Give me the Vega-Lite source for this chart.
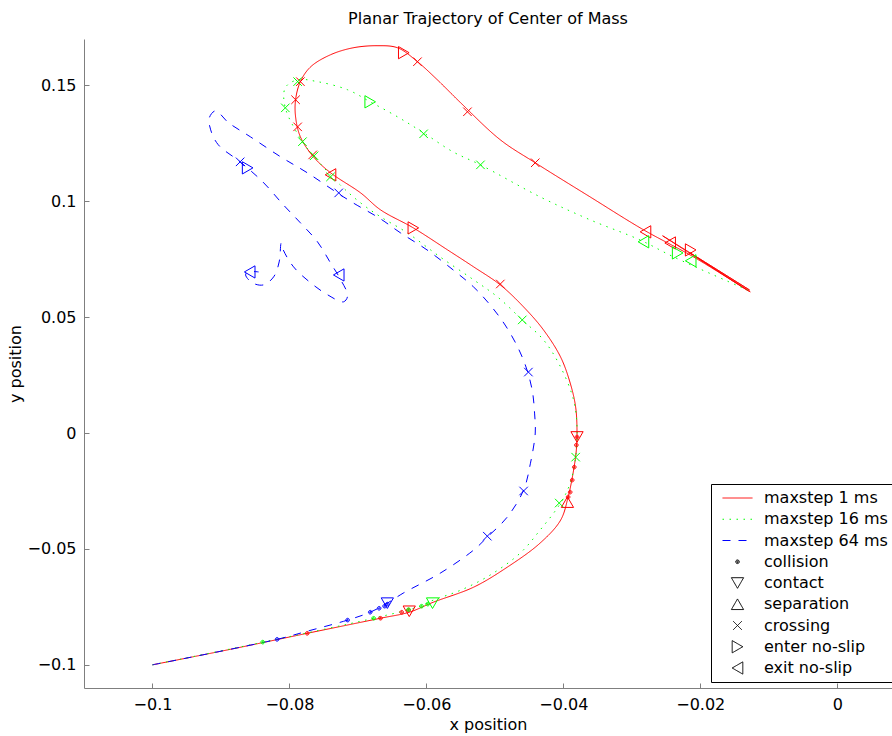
{
  "$schema": "https://vega.github.io/schema/vega-lite/v6.json",
  "autosize": {"type": "none"},
  "width": 808,
  "height": 649,
  "padding": {"left": 84, "top": 39, "right": 0, "bottom": 48},
  "background": "white",
  "title": {"text": "Planar Trajectory of Center of Mass", "font": "DejaVu Sans", "fontSize": 16, "fontWeight": "normal", "color": "#000", "offset": 12},
  "config": {
    "view": {"stroke": null},
    "axis": {"domainColor": "#7f7f7f", "tickColor": "#7f7f7f", "labelColor": "#000", "titleColor": "#000", "labelFont": "DejaVu Sans", "titleFont": "DejaVu Sans", "labelFontSize": 16, "titleFontSize": 16, "titleFontWeight": "normal", "grid": false, "tickSize": -5, "domainWidth": 1, "tickWidth": 1}
  },
  "datasets": {
    "lines": [
      {"s": "maxstep 1 ms", "i": 0, "x": -0.1, "y": -0.1},
      {"s": "maxstep 1 ms", "i": 1, "x": -0.0886, "y": -0.0933},
      {"s": "maxstep 1 ms", "i": 2, "x": -0.0774, "y": -0.0864},
      {"s": "maxstep 1 ms", "i": 3, "x": -0.0667, "y": -0.0799},
      {"s": "maxstep 1 ms", "i": 4, "x": -0.0625, "y": -0.0773},
      {"s": "maxstep 1 ms", "i": 5, "x": -0.059, "y": -0.073},
      {"s": "maxstep 1 ms", "i": 6, "x": -0.0531, "y": -0.0665},
      {"s": "maxstep 1 ms", "i": 7, "x": -0.0482, "y": -0.0579},
      {"s": "maxstep 1 ms", "i": 8, "x": -0.0434, "y": -0.0475},
      {"s": "maxstep 1 ms", "i": 9, "x": -0.0404, "y": -0.0376},
      {"s": "maxstep 1 ms", "i": 10, "x": -0.0393, "y": -0.0276},
      {"s": "maxstep 1 ms", "i": 11, "x": -0.0385, "y": -0.016},
      {"s": "maxstep 1 ms", "i": 12, "x": -0.0381, "y": -0.0073},
      {"s": "maxstep 1 ms", "i": 13, "x": -0.038, "y": 0.0},
      {"s": "maxstep 1 ms", "i": 14, "x": -0.0382, "y": 0.0112},
      {"s": "maxstep 1 ms", "i": 15, "x": -0.039, "y": 0.0216},
      {"s": "maxstep 1 ms", "i": 16, "x": -0.0404, "y": 0.0328},
      {"s": "maxstep 1 ms", "i": 17, "x": -0.0429, "y": 0.0445},
      {"s": "maxstep 1 ms", "i": 18, "x": -0.0458, "y": 0.0544},
      {"s": "maxstep 1 ms", "i": 19, "x": -0.0492, "y": 0.0639},
      {"s": "maxstep 1 ms", "i": 20, "x": -0.0531, "y": 0.0717},
      {"s": "maxstep 1 ms", "i": 21, "x": -0.0569, "y": 0.079},
      {"s": "maxstep 1 ms", "i": 22, "x": -0.0619, "y": 0.0885},
      {"s": "maxstep 1 ms", "i": 23, "x": -0.0667, "y": 0.0963},
      {"s": "maxstep 1 ms", "i": 24, "x": -0.0696, "y": 0.1036},
      {"s": "maxstep 1 ms", "i": 25, "x": -0.074, "y": 0.1123},
      {"s": "maxstep 1 ms", "i": 26, "x": -0.0765, "y": 0.1192},
      {"s": "maxstep 1 ms", "i": 27, "x": -0.0784, "y": 0.1278},
      {"s": "maxstep 1 ms", "i": 28, "x": -0.0791, "y": 0.1364},
      {"s": "maxstep 1 ms", "i": 29, "x": -0.0791, "y": 0.1438},
      {"s": "maxstep 1 ms", "i": 30, "x": -0.0784, "y": 0.1516},
      {"s": "maxstep 1 ms", "i": 31, "x": -0.0769, "y": 0.158},
      {"s": "maxstep 1 ms", "i": 32, "x": -0.074, "y": 0.1632},
      {"s": "maxstep 1 ms", "i": 33, "x": -0.0707, "y": 0.1662},
      {"s": "maxstep 1 ms", "i": 34, "x": -0.0672, "y": 0.1671},
      {"s": "maxstep 1 ms", "i": 35, "x": -0.0642, "y": 0.1662},
      {"s": "maxstep 1 ms", "i": 36, "x": -0.0613, "y": 0.1602},
      {"s": "maxstep 1 ms", "i": 37, "x": -0.0584, "y": 0.1524},
      {"s": "maxstep 1 ms", "i": 38, "x": -0.055, "y": 0.1425},
      {"s": "maxstep 1 ms", "i": 39, "x": -0.0492, "y": 0.1265},
      {"s": "maxstep 1 ms", "i": 40, "x": -0.0441, "y": 0.1166},
      {"s": "maxstep 1 ms", "i": 41, "x": -0.0361, "y": 0.1019},
      {"s": "maxstep 1 ms", "i": 42, "x": -0.0283, "y": 0.0877},
      {"s": "maxstep 1 ms", "i": 43, "x": -0.021, "y": 0.076},
      {"s": "maxstep 1 ms", "i": 44, "x": -0.0127, "y": 0.0609},
      {"s": "maxstep 1 ms", "i": 45, "x": -0.0255, "y": 0.0851},
      {"s": "maxstep 1 ms", "i": 46, "x": -0.0128, "y": 0.0617},
      {"s": "maxstep 1 ms", "i": 47, "x": -0.0215, "y": 0.0777},
      {"s": "maxstep 1 ms", "i": 48, "x": -0.013, "y": 0.0613},

      {"s": "maxstep 16 ms", "i": 0, "x": -0.1, "y": -0.1},
      {"s": "maxstep 16 ms", "i": 1, "x": -0.0838, "y": -0.0902},
      {"s": "maxstep 16 ms", "i": 2, "x": -0.0677, "y": -0.0799},
      {"s": "maxstep 16 ms", "i": 3, "x": -0.0609, "y": -0.0747},
      {"s": "maxstep 16 ms", "i": 4, "x": -0.059, "y": -0.0721},
      {"s": "maxstep 16 ms", "i": 5, "x": -0.055, "y": -0.0678},
      {"s": "maxstep 16 ms", "i": 6, "x": -0.0507, "y": -0.0613},
      {"s": "maxstep 16 ms", "i": 7, "x": -0.0463, "y": -0.0518},
      {"s": "maxstep 16 ms", "i": 8, "x": -0.0434, "y": -0.0419},
      {"s": "maxstep 16 ms", "i": 9, "x": -0.0404, "y": -0.0302},
      {"s": "maxstep 16 ms", "i": 10, "x": -0.039, "y": -0.0216},
      {"s": "maxstep 16 ms", "i": 11, "x": -0.0382, "y": -0.0104},
      {"s": "maxstep 16 ms", "i": 12, "x": -0.038, "y": 0.0026},
      {"s": "maxstep 16 ms", "i": 13, "x": -0.0385, "y": 0.0142},
      {"s": "maxstep 16 ms", "i": 14, "x": -0.0404, "y": 0.0285},
      {"s": "maxstep 16 ms", "i": 15, "x": -0.0429, "y": 0.0402},
      {"s": "maxstep 16 ms", "i": 16, "x": -0.046, "y": 0.0488},
      {"s": "maxstep 16 ms", "i": 17, "x": -0.0496, "y": 0.0587},
      {"s": "maxstep 16 ms", "i": 18, "x": -0.0531, "y": 0.0661},
      {"s": "maxstep 16 ms", "i": 19, "x": -0.058, "y": 0.076},
      {"s": "maxstep 16 ms", "i": 20, "x": -0.0628, "y": 0.0864},
      {"s": "maxstep 16 ms", "i": 21, "x": -0.0667, "y": 0.0933},
      {"s": "maxstep 16 ms", "i": 22, "x": -0.0696, "y": 0.0993},
      {"s": "maxstep 16 ms", "i": 23, "x": -0.0726, "y": 0.1071},
      {"s": "maxstep 16 ms", "i": 24, "x": -0.0766, "y": 0.12},
      {"s": "maxstep 16 ms", "i": 25, "x": -0.0781, "y": 0.1257},
      {"s": "maxstep 16 ms", "i": 26, "x": -0.0806, "y": 0.1403},
      {"s": "maxstep 16 ms", "i": 27, "x": -0.0806, "y": 0.149},
      {"s": "maxstep 16 ms", "i": 28, "x": -0.0788, "y": 0.1524},
      {"s": "maxstep 16 ms", "i": 29, "x": -0.0759, "y": 0.1516},
      {"s": "maxstep 16 ms", "i": 30, "x": -0.0715, "y": 0.1481},
      {"s": "maxstep 16 ms", "i": 31, "x": -0.0682, "y": 0.1429},
      {"s": "maxstep 16 ms", "i": 32, "x": -0.0642, "y": 0.1364},
      {"s": "maxstep 16 ms", "i": 33, "x": -0.0604, "y": 0.1295},
      {"s": "maxstep 16 ms", "i": 34, "x": -0.0561, "y": 0.1213},
      {"s": "maxstep 16 ms", "i": 35, "x": -0.0521, "y": 0.1157},
      {"s": "maxstep 16 ms", "i": 36, "x": -0.0434, "y": 0.1019},
      {"s": "maxstep 16 ms", "i": 37, "x": -0.0361, "y": 0.092},
      {"s": "maxstep 16 ms", "i": 38, "x": -0.0288, "y": 0.0833},
      {"s": "maxstep 16 ms", "i": 39, "x": -0.0239, "y": 0.076},
      {"s": "maxstep 16 ms", "i": 40, "x": -0.0131, "y": 0.0617},

      {"s": "maxstep 64 ms", "i": 0, "x": -0.1, "y": -0.1},
      {"s": "maxstep 64 ms", "i": 1, "x": -0.0818, "y": -0.089},
      {"s": "maxstep 64 ms", "i": 2, "x": -0.0774, "y": -0.0855},
      {"s": "maxstep 64 ms", "i": 3, "x": -0.0715, "y": -0.0807},
      {"s": "maxstep 64 ms", "i": 4, "x": -0.0682, "y": -0.0773},
      {"s": "maxstep 64 ms", "i": 5, "x": -0.0657, "y": -0.0734},
      {"s": "maxstep 64 ms", "i": 6, "x": -0.0634, "y": -0.0691},
      {"s": "maxstep 64 ms", "i": 7, "x": -0.058, "y": -0.0605},
      {"s": "maxstep 64 ms", "i": 8, "x": -0.0531, "y": -0.0505},
      {"s": "maxstep 64 ms", "i": 9, "x": -0.0511, "y": -0.0449},
      {"s": "maxstep 64 ms", "i": 10, "x": -0.0482, "y": -0.0363},
      {"s": "maxstep 64 ms", "i": 11, "x": -0.0458, "y": -0.0246},
      {"s": "maxstep 64 ms", "i": 12, "x": -0.0448, "y": -0.013},
      {"s": "maxstep 64 ms", "i": 13, "x": -0.0441, "y": 0.0},
      {"s": "maxstep 64 ms", "i": 14, "x": -0.0442, "y": 0.0086},
      {"s": "maxstep 64 ms", "i": 15, "x": -0.0445, "y": 0.0177},
      {"s": "maxstep 64 ms", "i": 16, "x": -0.0453, "y": 0.0272},
      {"s": "maxstep 64 ms", "i": 17, "x": -0.0466, "y": 0.0367},
      {"s": "maxstep 64 ms", "i": 18, "x": -0.0485, "y": 0.0466},
      {"s": "maxstep 64 ms", "i": 19, "x": -0.0507, "y": 0.0553},
      {"s": "maxstep 64 ms", "i": 20, "x": -0.0531, "y": 0.063},
      {"s": "maxstep 64 ms", "i": 21, "x": -0.0561, "y": 0.0704},
      {"s": "maxstep 64 ms", "i": 22, "x": -0.0599, "y": 0.079},
      {"s": "maxstep 64 ms", "i": 23, "x": -0.0638, "y": 0.0864},
      {"s": "maxstep 64 ms", "i": 24, "x": -0.0667, "y": 0.0924},
      {"s": "maxstep 64 ms", "i": 25, "x": -0.0707, "y": 0.0993},
      {"s": "maxstep 64 ms", "i": 26, "x": -0.073, "y": 0.1036},
      {"s": "maxstep 64 ms", "i": 27, "x": -0.0774, "y": 0.1123},
      {"s": "maxstep 64 ms", "i": 28, "x": -0.0813, "y": 0.1192},
      {"s": "maxstep 64 ms", "i": 29, "x": -0.0857, "y": 0.1278},
      {"s": "maxstep 64 ms", "i": 30, "x": -0.0889, "y": 0.1339},
      {"s": "maxstep 64 ms", "i": 31, "x": -0.0908, "y": 0.139},
      {"s": "maxstep 64 ms", "i": 32, "x": -0.0917, "y": 0.136},
      {"s": "maxstep 64 ms", "i": 33, "x": -0.0915, "y": 0.1308},
      {"s": "maxstep 64 ms", "i": 34, "x": -0.0904, "y": 0.1244},
      {"s": "maxstep 64 ms", "i": 35, "x": -0.0872, "y": 0.117},
      {"s": "maxstep 64 ms", "i": 36, "x": -0.0839, "y": 0.1084},
      {"s": "maxstep 64 ms", "i": 37, "x": -0.0809, "y": 0.0985},
      {"s": "maxstep 64 ms", "i": 38, "x": -0.0784, "y": 0.0907},
      {"s": "maxstep 64 ms", "i": 39, "x": -0.0759, "y": 0.0825},
      {"s": "maxstep 64 ms", "i": 40, "x": -0.074, "y": 0.0734},
      {"s": "maxstep 64 ms", "i": 41, "x": -0.0725, "y": 0.0661},
      {"s": "maxstep 64 ms", "i": 42, "x": -0.0715, "y": 0.0592},
      {"s": "maxstep 64 ms", "i": 43, "x": -0.0721, "y": 0.0566},
      {"s": "maxstep 64 ms", "i": 44, "x": -0.0744, "y": 0.0596},
      {"s": "maxstep 64 ms", "i": 45, "x": -0.0769, "y": 0.0648},
      {"s": "maxstep 64 ms", "i": 46, "x": -0.0794, "y": 0.0717},
      {"s": "maxstep 64 ms", "i": 47, "x": -0.0809, "y": 0.079},
      {"s": "maxstep 64 ms", "i": 48, "x": -0.0812, "y": 0.082},
      {"s": "maxstep 64 ms", "i": 49, "x": -0.0815, "y": 0.0738},
      {"s": "maxstep 64 ms", "i": 50, "x": -0.0823, "y": 0.0674},
      {"s": "maxstep 64 ms", "i": 51, "x": -0.0838, "y": 0.0639},
      {"s": "maxstep 64 ms", "i": 52, "x": -0.0854, "y": 0.0648},
      {"s": "maxstep 64 ms", "i": 53, "x": -0.0864, "y": 0.0682},
      {"s": "maxstep 64 ms", "i": 54, "x": -0.0861, "y": 0.0695},
      {"s": "maxstep 64 ms", "i": 55, "x": -0.0845, "y": 0.0695}
    ],
    "marks": [
      {"s": "maxstep 1 ms", "m": "collision", "x": -0.0774, "y": -0.0864},
      {"s": "maxstep 1 ms", "m": "collision", "x": -0.0667, "y": -0.0799},
      {"s": "maxstep 1 ms", "m": "collision", "x": -0.0636, "y": -0.0773},
      {"s": "maxstep 1 ms", "m": "collision", "x": -0.0626, "y": -0.0764},
      {"s": "maxstep 1 ms", "m": "collision", "x": -0.038, "y": -0.0017},
      {"s": "maxstep 1 ms", "m": "collision", "x": -0.0381, "y": -0.0052},
      {"s": "maxstep 1 ms", "m": "collision", "x": -0.0384, "y": -0.0147},
      {"s": "maxstep 1 ms", "m": "collision", "x": -0.0387, "y": -0.0203},
      {"s": "maxstep 1 ms", "m": "collision", "x": -0.039, "y": -0.0255},
      {"s": "maxstep 1 ms", "m": "collision", "x": -0.0393, "y": -0.0276},
      {"s": "maxstep 1 ms", "m": "contact", "x": -0.0625, "y": -0.0769},
      {"s": "maxstep 1 ms", "m": "contact", "x": -0.038, "y": -0.0017},
      {"s": "maxstep 1 ms", "m": "separation", "x": -0.0394, "y": -0.0298},
      {"s": "maxstep 1 ms", "m": "crossing", "x": -0.0784, "y": 0.1516},
      {"s": "maxstep 1 ms", "m": "crossing", "x": -0.0791, "y": 0.1438},
      {"s": "maxstep 1 ms", "m": "crossing", "x": -0.0788, "y": 0.1321},
      {"s": "maxstep 1 ms", "m": "crossing", "x": -0.0766, "y": 0.12},
      {"s": "maxstep 1 ms", "m": "crossing", "x": -0.0613, "y": 0.1602},
      {"s": "maxstep 1 ms", "m": "crossing", "x": -0.054, "y": 0.1386},
      {"s": "maxstep 1 ms", "m": "crossing", "x": -0.0441, "y": 0.1166},
      {"s": "maxstep 1 ms", "m": "crossing", "x": -0.0492, "y": 0.0643},
      {"s": "maxstep 1 ms", "m": "enter no-slip", "x": -0.0633, "y": 0.1641},
      {"s": "maxstep 1 ms", "m": "enter no-slip", "x": -0.0619, "y": 0.0885},
      {"s": "maxstep 1 ms", "m": "enter no-slip", "x": -0.0214, "y": 0.079},
      {"s": "maxstep 1 ms", "m": "exit no-slip", "x": -0.074, "y": 0.1114},
      {"s": "maxstep 1 ms", "m": "exit no-slip", "x": -0.028, "y": 0.0868},
      {"s": "maxstep 1 ms", "m": "exit no-slip", "x": -0.0244, "y": 0.082},

      {"s": "maxstep 16 ms", "m": "collision", "x": -0.0839, "y": -0.0902},
      {"s": "maxstep 16 ms", "m": "collision", "x": -0.0677, "y": -0.0799},
      {"s": "maxstep 16 ms", "m": "collision", "x": -0.0607, "y": -0.0747},
      {"s": "maxstep 16 ms", "m": "collision", "x": -0.0598, "y": -0.0738},
      {"s": "maxstep 16 ms", "m": "collision", "x": -0.0626, "y": -0.0762},
      {"s": "maxstep 16 ms", "m": "contact", "x": -0.0591, "y": -0.0734},
      {"s": "maxstep 16 ms", "m": "crossing", "x": -0.0788, "y": 0.1516},
      {"s": "maxstep 16 ms", "m": "crossing", "x": -0.0806, "y": 0.1403},
      {"s": "maxstep 16 ms", "m": "crossing", "x": -0.0781, "y": 0.1257},
      {"s": "maxstep 16 ms", "m": "crossing", "x": -0.0764, "y": 0.1196},
      {"s": "maxstep 16 ms", "m": "crossing", "x": -0.074, "y": 0.1105},
      {"s": "maxstep 16 ms", "m": "crossing", "x": -0.0604, "y": 0.1291},
      {"s": "maxstep 16 ms", "m": "crossing", "x": -0.0521, "y": 0.1157},
      {"s": "maxstep 16 ms", "m": "crossing", "x": -0.046, "y": 0.0488},
      {"s": "maxstep 16 ms", "m": "crossing", "x": -0.0382, "y": -0.0104},
      {"s": "maxstep 16 ms", "m": "crossing", "x": -0.0406, "y": -0.0302},
      {"s": "maxstep 16 ms", "m": "enter no-slip", "x": -0.0682, "y": 0.1429},
      {"s": "maxstep 16 ms", "m": "enter no-slip", "x": -0.0233, "y": 0.0777},
      {"s": "maxstep 16 ms", "m": "exit no-slip", "x": -0.0283, "y": 0.0825},
      {"s": "maxstep 16 ms", "m": "exit no-slip", "x": -0.0214, "y": 0.0743},

      {"s": "maxstep 64 ms", "m": "collision", "x": -0.0818, "y": -0.089},
      {"s": "maxstep 64 ms", "m": "collision", "x": -0.0715, "y": -0.0807},
      {"s": "maxstep 64 ms", "m": "collision", "x": -0.0682, "y": -0.0773},
      {"s": "maxstep 64 ms", "m": "collision", "x": -0.0669, "y": -0.0756},
      {"s": "maxstep 64 ms", "m": "collision", "x": -0.0661, "y": -0.0747},
      {"s": "maxstep 64 ms", "m": "collision", "x": -0.0657, "y": -0.0738},
      {"s": "maxstep 64 ms", "m": "contact", "x": -0.0657, "y": -0.0734},
      {"s": "maxstep 64 ms", "m": "crossing", "x": -0.0872, "y": 0.117},
      {"s": "maxstep 64 ms", "m": "crossing", "x": -0.0728, "y": 0.1036},
      {"s": "maxstep 64 ms", "m": "crossing", "x": -0.0451, "y": 0.0263},
      {"s": "maxstep 64 ms", "m": "crossing", "x": -0.0458, "y": -0.025},
      {"s": "maxstep 64 ms", "m": "crossing", "x": -0.0511, "y": -0.0445},
      {"s": "maxstep 64 ms", "m": "enter no-slip", "x": -0.0861, "y": 0.1144},
      {"s": "maxstep 64 ms", "m": "exit no-slip", "x": -0.0728, "y": 0.0682},
      {"s": "maxstep 64 ms", "m": "exit no-slip", "x": -0.0858, "y": 0.0695}
    ]
  },
  "layer": [
    {
      "data": {"name": "lines"},
      "mark": {"type": "line", "interpolate": "catmull-rom", "strokeWidth": 1},
      "encoding": {
        "x": {"field": "x", "type": "quantitative", "title": "x position", "scale": {"domain": [-0.11, 0.008], "nice": false, "zero": false}, "axis": {"values": [-0.1, -0.08, -0.06, -0.04, -0.02, 0], "format": "~g", "labelPadding": 13, "titlePadding": 4}},
        "y": {"field": "y", "type": "quantitative", "title": "y position", "scale": {"domain": [-0.11, 0.17], "nice": false, "zero": false}, "axis": {"values": [-0.1, -0.05, 0, 0.05, 0.1, 0.15], "format": "~g", "labelPadding": 13, "titlePadding": 3}},
        "order": {"field": "i", "type": "quantitative"},
        "color": {"field": "s", "type": "nominal", "scale": {"domain": ["maxstep 1 ms", "maxstep 16 ms", "maxstep 64 ms", "collision", "contact", "separation", "crossing", "enter no-slip", "exit no-slip"], "range": ["#ff0000", "#00ff00", "#0000ff", "#000000", "#000000", "#000000", "#000000", "#000000", "#000000"]}, "legend": {"title": null, "orient": "none", "legendX": 627, "legendY": 445, "strokeColor": "#000", "fillColor": "#fff", "padding": 4, "cornerRadius": 0, "labelFont": "DejaVu Sans", "labelFontSize": 16, "labelColor": "#000", "symbolStrokeWidth": 1, "symbolFillColor": "transparent", "clipHeight": 20, "rowPadding": 1.25, "symbolOffset": 7, "labelOffset": 11, "labelLimit": 300}},
        "strokeDash": {"field": "s", "type": "nominal", "scale": {"domain": ["maxstep 1 ms", "maxstep 16 ms", "maxstep 64 ms", "collision", "contact", "separation", "crossing", "enter no-slip", "exit no-slip"], "range": [[1, 0], [1.5, 5.5], [8, 8], [1, 0], [1, 0], [1, 0], [1, 0], [1, 0], [1, 0]]}, "legend": {"title": null}}
      }
    },
    {
      "data": {"name": "marks"},
      "mark": {"type": "point", "filled": false, "strokeWidth": 1, "opacity": 1},
      "encoding": {
        "x": {"field": "x", "type": "quantitative"},
        "y": {"field": "y", "type": "quantitative"},
        "shape": {"field": "m", "type": "nominal", "scale": {"domain": ["maxstep 1 ms", "maxstep 16 ms", "maxstep 64 ms", "collision", "contact", "separation", "crossing", "enter no-slip", "exit no-slip"], "range": ["stroke", "stroke", "stroke", "M-1,0A1,1 0 1,1 1,0A1,1 0 1,1 -1,0ZM-0.4,0A0.4,0.4 0 1,1 0.4,0A0.4,0.4 0 1,1 -0.4,0Z", "triangle-down", "triangle-up", "M-1,-1L1,1M1,-1L-1,1", "triangle-right", "triangle-left"]}, "legend": {"title": null}},
        "size": {"field": "m", "type": "nominal", "scale": {"type": "ordinal", "domain": ["maxstep 1 ms", "maxstep 16 ms", "maxstep 64 ms", "collision", "contact", "separation", "crossing", "enter no-slip", "exit no-slip"], "range": [900, 900, 900, 13, 150, 150, 72, 150, 150]}, "legend": {"title": null}},
        "stroke": {"field": "s", "type": "nominal", "scale": {"domain": ["maxstep 1 ms", "maxstep 16 ms", "maxstep 64 ms"], "range": ["#ff0000", "#00ff00", "#0000ff"]}, "legend": null}
      }
    }
  ]
}
